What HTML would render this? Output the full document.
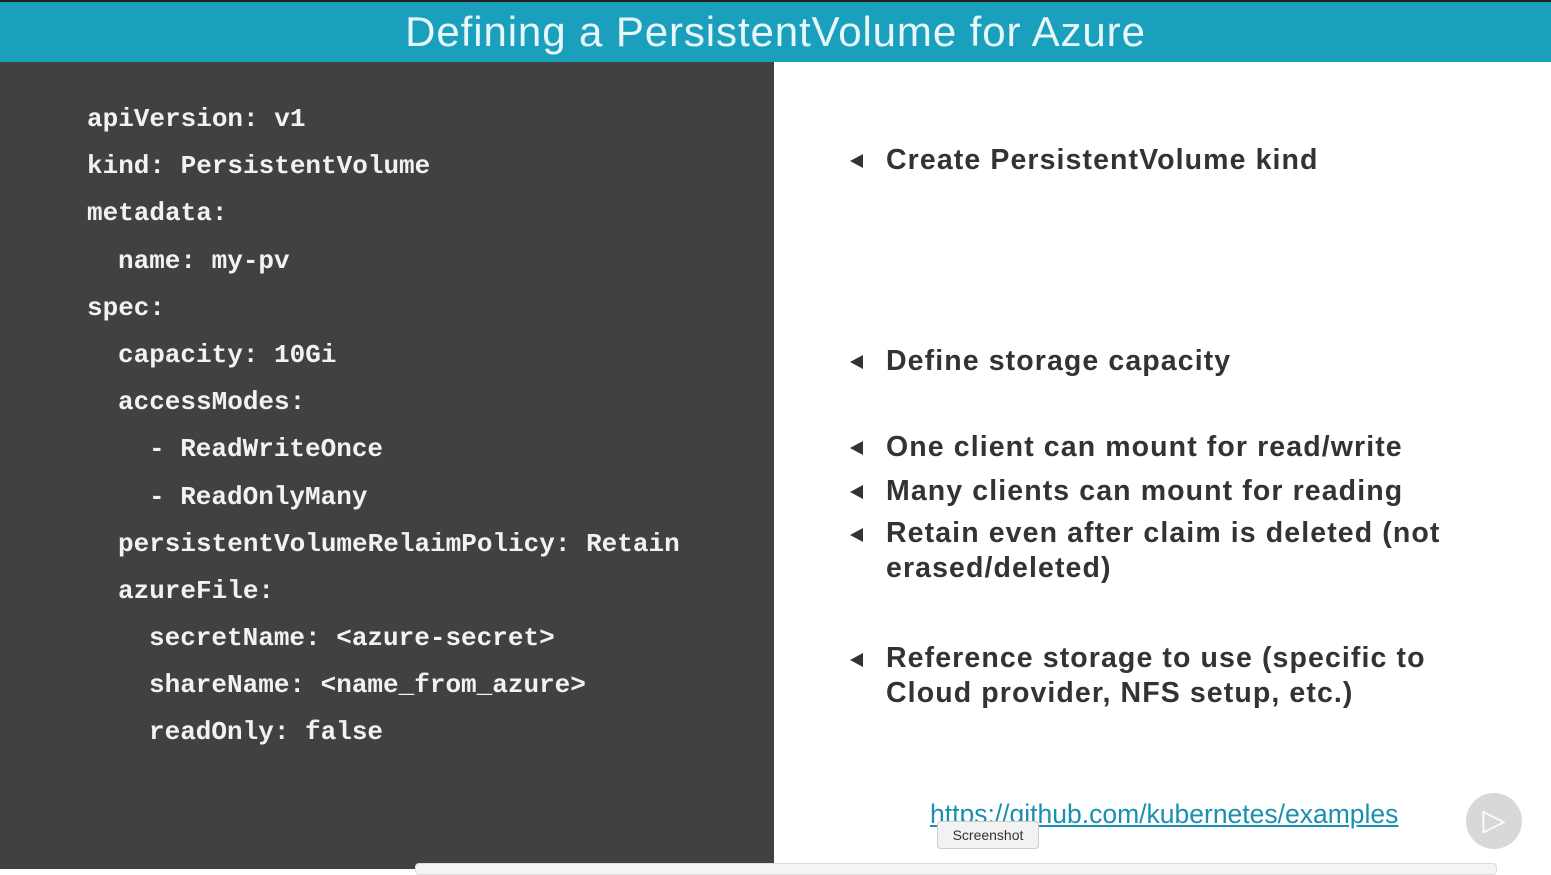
<!DOCTYPE html>
<html><head><meta charset="utf-8"><style>
body{margin:0;width:1551px;height:869px;overflow:hidden;background:#fff;position:relative;font-family:"Liberation Sans",sans-serif}
#top{position:absolute;left:0;top:0;width:1551px;height:2px;background:#222}
#hdr{position:absolute;left:0;top:2px;width:1551px;height:60px;background:#1a9fbd;color:#e8f7fb;font-size:42px;text-align:center;line-height:60px;letter-spacing:0.9px}
#left{position:absolute;left:0;top:62px;width:774px;height:807px;background:#414141}
.c{position:absolute;font-family:"Liberation Mono",monospace;font-size:26px;color:#f2f2f2;white-space:pre;font-weight:bold;letter-spacing:0}
.r{position:absolute;left:886px;font-size:28.5px;color:#333;line-height:35px;font-weight:bold;letter-spacing:1.1px;white-space:nowrap}
.a{position:absolute;left:850px;width:0;height:0;border-top:7px solid transparent;border-bottom:7px solid transparent;border-right:13px solid #333}
</style></head><body>
<div id="top"></div>
<div id="hdr">Defining a PersistentVolume for Azure</div>
<div id="left"></div>
<div class="c" style="left:87px;top:104px">apiVersion: v1</div>
<div class="c" style="left:87px;top:151px">kind: PersistentVolume</div>
<div class="c" style="left:87px;top:198px">metadata:</div>
<div class="c" style="left:118px;top:246px">name: my-pv</div>
<div class="c" style="left:87px;top:293px">spec:</div>
<div class="c" style="left:118px;top:340px">capacity: 10Gi</div>
<div class="c" style="left:118px;top:387px">accessModes:</div>
<div class="c" style="left:149px;top:434px">- ReadWriteOnce</div>
<div class="c" style="left:149px;top:482px">- ReadOnlyMany</div>
<div class="c" style="left:118px;top:529px">persistentVolumeRelaimPolicy: Retain</div>
<div class="c" style="left:118px;top:576px">azureFile:</div>
<div class="c" style="left:149px;top:623px">secretName: &lt;azure-secret&gt;</div>
<div class="c" style="left:149px;top:670px">shareName: &lt;name_from_azure&gt;</div>
<div class="c" style="left:149px;top:717px">readOnly: false</div>

<div class="a" style="top:154px"></div><div class="r" style="top:143px">Create PersistentVolume kind</div>
<div class="a" style="top:355px"></div><div class="r" style="top:344px">Define storage capacity</div>
<div class="a" style="top:441px"></div><div class="r" style="top:430px">One client can mount for read/write</div>
<div class="a" style="top:485px"></div><div class="r" style="top:474px">Many clients can mount for reading</div>
<div class="a" style="top:528px"></div><div class="r" style="top:516px">Retain even after claim is deleted (not<br>erased/deleted)</div>
<div class="a" style="top:653px"></div><div class="r" style="top:641px">Reference storage to use (specific to<br>Cloud provider, NFS setup, etc.)</div>

<div style="position:absolute;left:930px;top:799px;font-size:26.5px;color:#1a8fb0;text-decoration:underline;white-space:nowrap">https://github.com/kubernetes/examples</div>
<div style="position:absolute;left:1466px;top:793px;width:56px;height:56px;border-radius:50%;background:#d8d8d8;color:#fff;font-size:30px;text-align:center;line-height:56px">▷</div>
<div style="position:absolute;left:415px;top:863px;width:1080px;height:10px;background:#f4f4f4;border:1px solid #ddd;border-radius:4px"></div>
<div style="position:absolute;left:937px;top:821px;width:100px;height:26px;background:#f2f2f2;border:1px solid #ccc;border-radius:4px;font-size:14px;color:#333;text-align:center;line-height:26px">Screenshot</div>
</body></html>
